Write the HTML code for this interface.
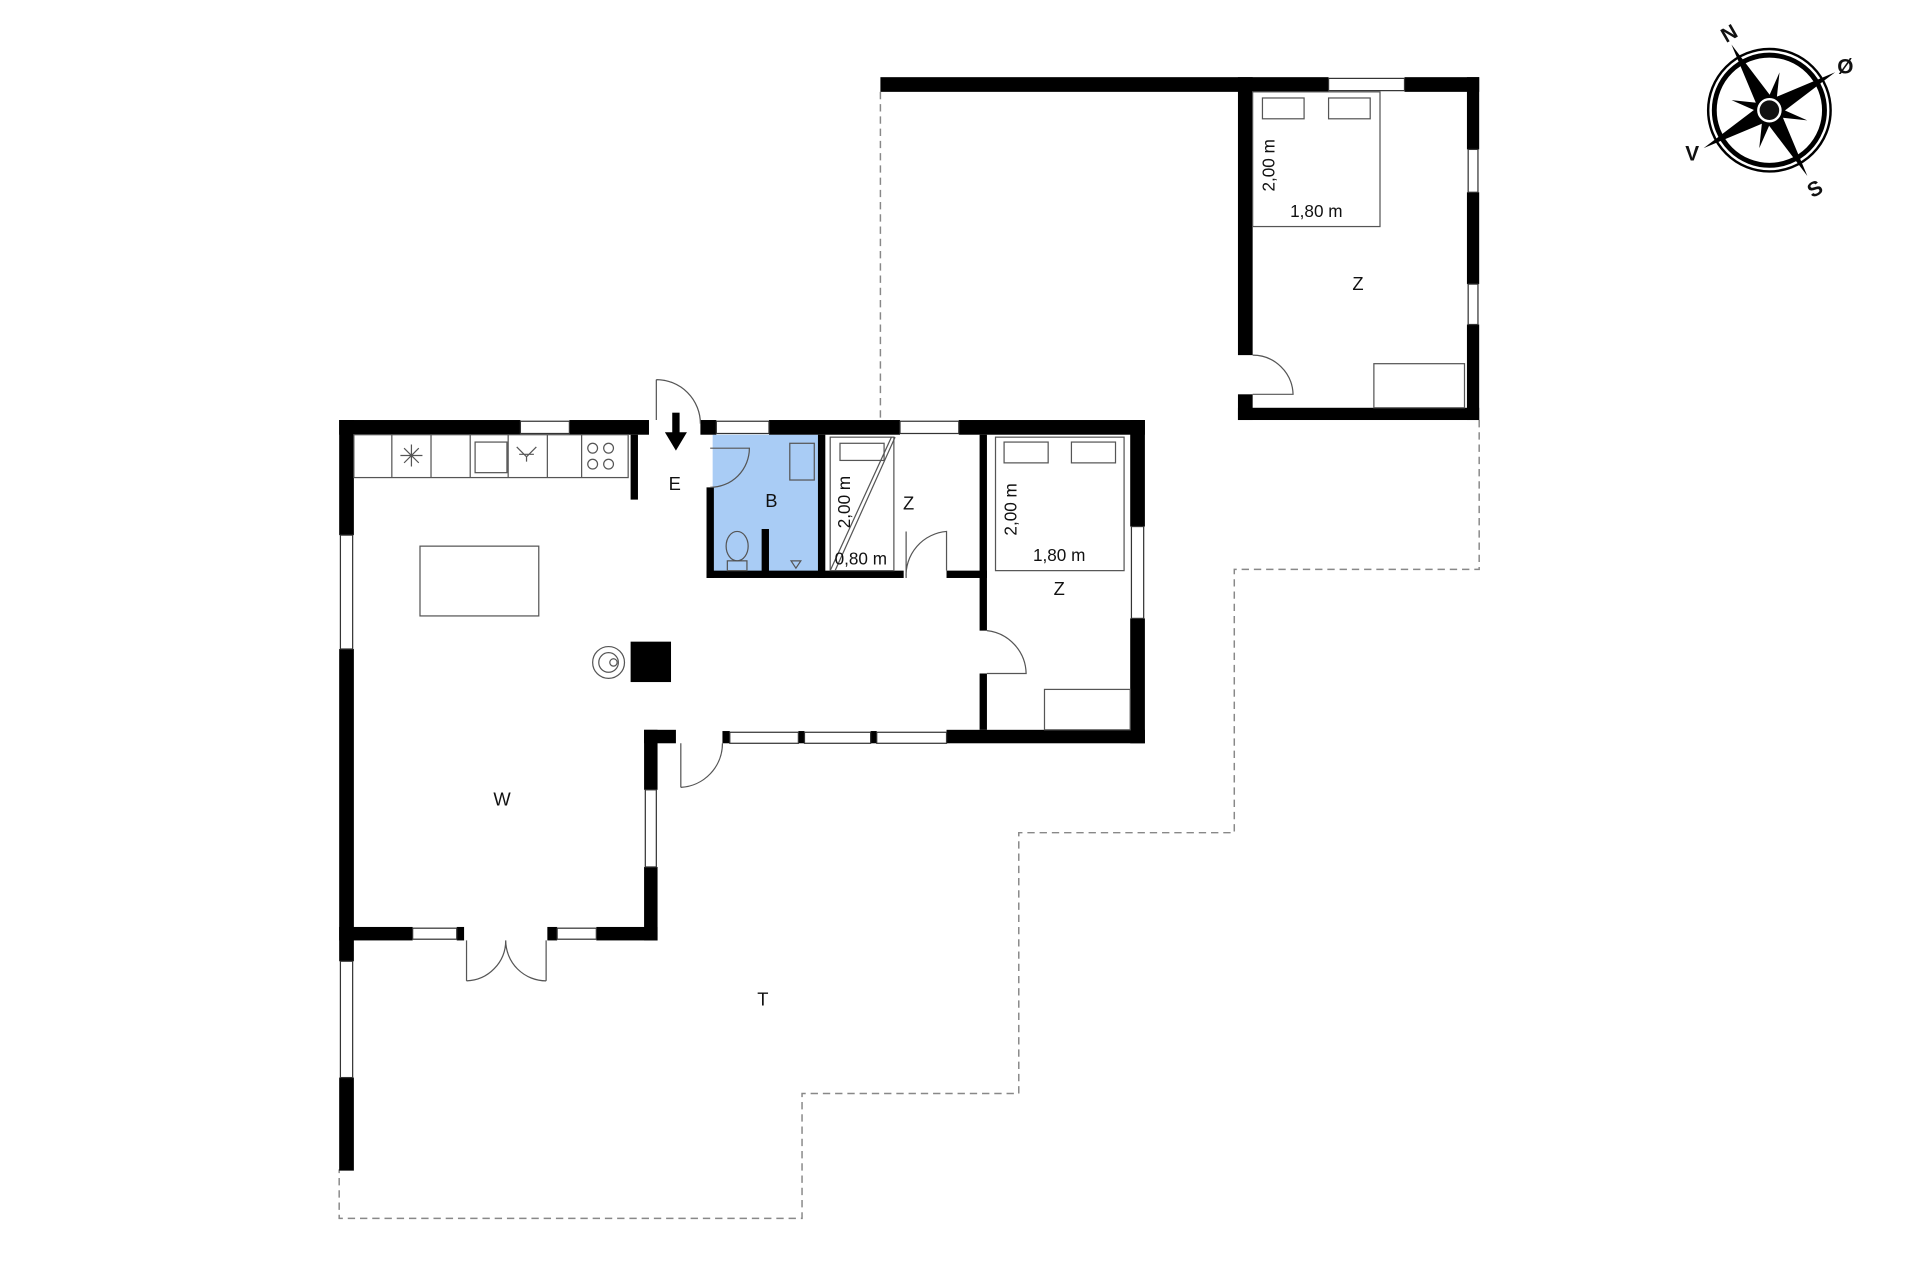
<!DOCTYPE html>
<html><head><meta charset="utf-8"><style>
html,body{margin:0;padding:0;background:#fff;}
svg{display:block;}
text{font-family:"Liberation Sans",sans-serif;fill:#111;}
</style></head><body>
<svg width="1920" height="1280" viewBox="0 0 1568 1045.3" xmlns="http://www.w3.org/2000/svg">
<rect width="1568" height="1046" fill="#fff"/>
<g fill="none" stroke="#888" stroke-width="1.2" stroke-dasharray="6,4">
<path d="M719 75 V343"/>
<path d="M1208 343 V465 H1008 V680 H832 V893 H655 V995 H277 V955"/>
</g>
<rect x="582" y="355" width="87" height="112" fill="#a9ccf5"/>
<g fill="#000">
<rect x="277" y="343" width="148" height="12"/>
<rect x="465" y="343" width="65" height="12"/>
<rect x="572" y="343" width="13" height="12"/>
<rect x="628" y="343" width="107" height="12"/>
<rect x="783" y="343" width="152" height="12"/>
<rect x="277" y="343" width="12" height="94"/>
<rect x="277" y="530" width="12" height="255"/>
<rect x="277" y="880" width="12" height="76"/>
<rect x="923" y="343" width="12" height="87"/>
<rect x="923" y="505" width="12" height="102"/>
<rect x="773" y="596" width="162" height="11"/>
<rect x="590" y="597" width="6" height="10"/>
<rect x="652" y="597" width="5" height="10"/>
<rect x="711" y="597" width="5" height="10"/>
<rect x="526" y="596" width="26" height="11"/>
<rect x="526" y="596" width="11" height="49"/>
<rect x="526" y="708" width="11" height="60"/>
<rect x="277" y="757" width="60" height="11"/>
<rect x="373" y="757" width="6" height="11"/>
<rect x="447" y="757" width="8" height="11"/>
<rect x="487" y="757" width="50" height="11"/>
<rect x="515" y="355" width="6" height="53"/>
<rect x="577" y="398" width="6" height="74"/>
<rect x="577" y="466" width="161" height="6"/>
<rect x="668" y="355" width="6" height="117"/>
<rect x="622" y="432" width="6" height="35"/>
<rect x="773" y="466" width="33" height="6"/>
<rect x="800" y="355" width="6" height="117"/>
<rect x="800" y="466" width="6" height="49"/>
<rect x="800" y="550" width="6" height="46"/>
<rect x="719" y="63" width="366" height="12"/>
<rect x="1147" y="63" width="61" height="12"/>
<rect x="1198" y="63" width="10" height="59"/>
<rect x="1198" y="157" width="10" height="75"/>
<rect x="1198" y="265" width="10" height="78"/>
<rect x="1011" y="63" width="12" height="227"/>
<rect x="1011" y="322" width="12" height="21"/>
<rect x="1011" y="333" width="197" height="10"/>
<rect x="515" y="524" width="33" height="33"/>
<rect x="549" y="337" width="6" height="18"/>
<polygon points="543,353 561,353 552,368"/>
</g>
<g fill="#fff" stroke="#333" stroke-width="1">
<rect x="425" y="344" width="40" height="10"/>
<rect x="585" y="344" width="43" height="10"/>
<rect x="735" y="344" width="48" height="10"/>
<rect x="278" y="437" width="10" height="93"/>
<rect x="278" y="785" width="10" height="95"/>
<rect x="924" y="430" width="10" height="75"/>
<rect x="596" y="598" width="56" height="9"/>
<rect x="657" y="598" width="54" height="9"/>
<rect x="716" y="598" width="57" height="9"/>
<rect x="527" y="645" width="9" height="63"/>
<rect x="337" y="758" width="36" height="9"/>
<rect x="455" y="758" width="32" height="9"/>
<rect x="1085" y="64" width="62" height="10"/>
<rect x="1199" y="122" width="8" height="35"/>
<rect x="1199" y="232" width="8" height="33"/>
</g>
<g fill="none" stroke="#555" stroke-width="1">
<rect x="289" y="355" width="224" height="35"/>
<line x1="320" y1="355" x2="320" y2="390"/><line x1="352" y1="355" x2="352" y2="390"/>
<line x1="384" y1="355" x2="384" y2="390"/><line x1="415" y1="355" x2="415" y2="390"/>
<line x1="447" y1="355" x2="447" y2="390"/><line x1="475" y1="355" x2="475" y2="390"/>
<rect x="388" y="361" width="26" height="25"/>
<circle cx="484" cy="366" r="4"/><circle cx="497" cy="366" r="4"/><circle cx="484" cy="379" r="4"/><circle cx="497" cy="379" r="4"/>
<path d="M327 372h18M336 363v18M330 366l12 12M342 366l-12 12"/>
<path d="M422 365l8 8 8-8M430 373v4M424 371h12"/>
<rect x="343" y="446" width="97" height="57"/>
<circle cx="497" cy="541" r="13"/><circle cx="497" cy="541" r="8"/><circle cx="501" cy="541" r="3"/>
<path d="M536 310v33M536 310 A36 36 0 0 1 572 346"/>
<path d="M580 366 H612 A32 32 0 0 1 580 398"/>
<rect x="645" y="362" width="20" height="30"/>
<ellipse cx="602" cy="446" rx="9" ry="12"/><rect x="594" y="458" width="16" height="8"/>
<path d="M646 458l4 6 4-6z"/>
<rect x="678" y="357" width="52" height="109"/>
<rect x="686" y="362" width="36" height="14"/>
<line x1="678" y1="466" x2="728" y2="357"/>
<line x1="682" y1="466" x2="731" y2="357"/>
<path d="M740 472v-38 M740 472 A36 36 0 0 1 773 434 v32"/>
<rect x="813" y="357" width="105" height="109"/>
<rect x="820" y="361" width="36" height="17"/><rect x="875" y="361" width="36" height="17"/>
<path d="M806 515 A36 36 0 0 1 838 550 h-32"/>
<rect x="853" y="563" width="70" height="33"/>
<path d="M556 607v36 M556 643 A36 36 0 0 0 590 607"/>
<path d="M381 768v33 M381 801 A33 33 0 0 0 413 768 M446 768v33 M446 801 A33 33 0 0 1 413 768"/>
<rect x="1023" y="75" width="104" height="110"/>
<rect x="1031" y="80" width="34" height="17"/><rect x="1085" y="80" width="34" height="17"/>
<path d="M1023 290 A33 33 0 0 1 1056 322 h-33"/>
<rect x="1122" y="297" width="74" height="36"/>
</g>
<g font-size="15" text-anchor="middle">
<text x="551" y="400">E</text>
<text x="630" y="414">B</text>
<text x="742" y="416">Z</text>
<text x="865" y="486">Z</text>
<text x="410" y="658">W</text>
<text x="623" y="821">T</text>
<text x="1109" y="237">Z</text>
</g>
<g font-size="14" text-anchor="middle">
<text x="703" y="461">0,80 m</text>
<text x="865" y="458">1,80 m</text>
<text x="1075" y="177">1,80 m</text>
<text transform="translate(694,410) rotate(-90)">2,00 m</text>
<text transform="translate(830,416) rotate(-90)">2,00 m</text>
<text transform="translate(1041,135) rotate(-90)">2,00 m</text>
</g>
<g transform="translate(1445,90)">
<circle r="50" fill="none" stroke="#000" stroke-width="2"/>
<circle r="45" fill="none" stroke="#000" stroke-width="4"/>
<g transform="rotate(-30)" fill="#000">
<polygon points="0,-62 7,-7 0,0 -7,-7"/>
<polygon points="0,62 7,7 0,0 -7,7"/>
<polygon points="62,0 7,7 0,0 7,-7"/>
<polygon points="-62,0 -7,7 0,0 -7,-7"/>
<g transform="rotate(45)"><polygon points="0,-32 5,0 0,32 -5,0"/><polygon points="-32,0 0,5 32,0 0,-5"/></g>
</g>
<circle r="11" fill="#fff" stroke="#000" stroke-width="2"/>
<circle r="8" fill="#111"/>
<g font-size="17" font-weight="bold" text-anchor="middle">
<text x="-33" y="-57" transform="rotate(-30 -33 -63)">N</text>
<text x="62" y="-30">Ø</text>
<text x="-63" y="41">V</text>
<text x="37" y="70" transform="rotate(-30 37 64)">S</text>
</g>
</g>
</svg>
</body></html>
